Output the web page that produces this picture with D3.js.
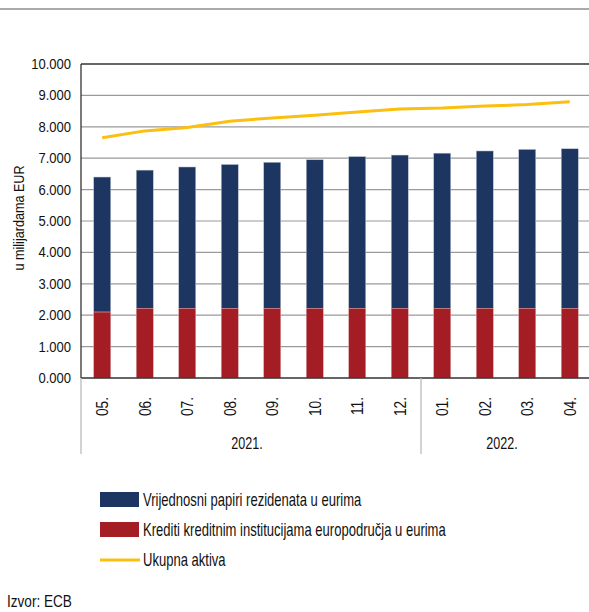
<!DOCTYPE html>
<html>
<head>
<meta charset="utf-8">
<script src="https://cdn.jsdelivr.net/npm/d3@7"></script>
<style>
  body { margin: 0; background: #fff; }
  svg text { font-family: "Liberation Sans", Arial, sans-serif; fill: #111; }
</style>
</head>
<body>
<div id="chart"></div>
<script>
// data
var months = ["05.", "06.", "07.", "08.", "09.", "10.", "11.", "12.", "01.", "02.", "03.", "04."];
var years = [{label: "2021.", from: 0, to: 7}, {label: "2022.", from: 8, to: 11}];
var krediti = [2.10, 2.22, 2.22, 2.22, 2.22, 2.22, 2.22, 2.22, 2.22, 2.22, 2.22, 2.22];
var ukupnoVp = [6.40, 6.62, 6.72, 6.80, 6.87, 6.95, 7.05, 7.10, 7.16, 7.23, 7.28, 7.30];
var aktiva = [7.65, 7.87, 7.98, 8.18, 8.28, 8.37, 8.47, 8.57, 8.60, 8.66, 8.71, 8.80];
var yTicks = [0, 1, 2, 3, 4, 5, 6, 7, 8, 9, 10];
var legendItems = [
  {label: "Vrijednosni papiri rezidenata u eurima", color: "#1c3661", type: "rect"},
  {label: "Krediti kreditnim institucijama europodručja u eurima", color: "#a51d24", type: "rect"},
  {label: "Ukupna aktiva", color: "#fbbf0f", type: "line"}
];

var W = 589, H = 612;
var margin = {top: 64, left: 81},
    plotH = 314;

var svg = d3.select("#chart").append("svg")
    .attr("width", W).attr("height", H);

// narrow text: the source font is a condensed one
function condensed(sel, x, y, sx, rot) {
  sel.attr("transform", "translate(" + x + "," + y + ")" + (rot ? " rotate(" + rot + ")" : "") + " scale(" + sx + ",1)");
}

// top separator
svg.append("rect").attr("x", 0).attr("y", 8).attr("width", W).attr("height", 2).attr("fill", "#aaa");

var x = d3.scaleBand().domain(months).range([margin.left, margin.left + 12 * 42.5]).paddingInner(0.6).paddingOuter(0.3);
var y = d3.scaleLinear().domain([0, 10]).range([margin.top + plotH, margin.top]);

// gridlines
svg.append("g").selectAll("line").data(yTicks.slice(1, -1)).enter().append("line")
    .attr("x1", margin.left).attr("x2", W)
    .attr("y1", function(d) { return y(d); }).attr("y2", function(d) { return y(d); })
    .attr("stroke", "#9a9a9a").attr("stroke-width", 1.2);

// y axis
var yAxis = svg.append("g")
    .attr("transform", "translate(" + margin.left + ",0)")
    .call(d3.axisLeft(y).tickValues(yTicks).tickSize(0)
      .tickFormat(function(d) { return d3.format(".3f")(d); }));
yAxis.select(".domain").remove();
yAxis.selectAll("text")
    .attr("font-family", null).attr("font-size", null)
    .style("font-size", "14px")
    .attr("x", 0)
    .attr("transform", "translate(-10,0) scale(0.93,1)");

// bars
var bars = svg.append("g");
bars.selectAll(".vp").data(months).enter().append("rect")
    .attr("x", function(d) { return x(d); })
    .attr("width", x.bandwidth())
    .attr("y", function(d, i) { return y(ukupnoVp[i]); })
    .attr("height", function(d, i) { return y(krediti[i]) - y(ukupnoVp[i]); })
    .attr("fill", "#1c3661").attr("stroke", "#b9c2d0").attr("stroke-width", 0.5);
bars.selectAll(".kr").data(months).enter().append("rect")
    .attr("x", function(d) { return x(d); })
    .attr("width", x.bandwidth())
    .attr("y", function(d, i) { return y(krediti[i]); })
    .attr("height", function(d, i) { return y(0) - y(krediti[i]); })
    .attr("fill", "#a51d24").attr("stroke", "#d8a5a8").attr("stroke-width", 0.5);

// line
var line = d3.line()
    .x(function(d, i) { return x(months[i]) + x.bandwidth() / 2; })
    .y(function(d) { return y(d); });
svg.append("path").datum(aktiva)
    .attr("d", line).attr("fill", "none")
    .attr("stroke", "#fbbf0f").attr("stroke-width", 3);

// frame: left, top, bottom
svg.append("line").attr("x1", margin.left).attr("x2", margin.left)
    .attr("y1", y(10)).attr("y2", y(0)).attr("stroke", "#333").attr("stroke-width", 1.3);
svg.append("line").attr("x1", margin.left).attr("x2", W)
    .attr("y1", y(10)).attr("y2", y(10)).attr("stroke", "#333").attr("stroke-width", 1.3);
svg.append("line").attr("x1", margin.left).attr("x2", W)
    .attr("y1", y(0)).attr("y2", y(0)).attr("stroke", "#333").attr("stroke-width", 1.3);

// x labels
svg.append("g").selectAll("text").data(months).enter().append("text")
    .attr("text-anchor", "end")
    .style("font-size", "16px")
    .text(function(d) { return d; })
    .each(function(d) {
      condensed(d3.select(this), x(d) + x.bandwidth() / 2 + 6, y(0) + 19, 0.86, -90);
    });

// year groups
var step = x.step();
var xLeft = function(i) { return margin.left + i * step; };
var sepIdx = [0, 8];
svg.append("g").selectAll("line").data(sepIdx).enter().append("line")
    .attr("x1", function(d) { return xLeft(d); }).attr("x2", function(d) { return xLeft(d); })
    .attr("y1", y(0)).attr("y2", y(0) + 76)
    .attr("stroke", "#bbb").attr("stroke-width", 1.3);
svg.append("g").selectAll("text").data(years).enter().append("text")
    .attr("text-anchor", "middle")
    .style("font-size", "17px")
    .text(function(d) { return d.label; })
    .each(function(d) {
      condensed(d3.select(this), (xLeft(d.from) + xLeft(d.to + 1)) / 2 - 4, y(0) + 71, 0.74);
    });

// y axis title
svg.append("text")
    .attr("text-anchor", "middle")
    .style("font-size", "15px")
    .text("u milijardama EUR")
    .call(condensed, 24, 218, 0.84, -90);

// legend
var lg = svg.append("g").selectAll("g").data(legendItems).enter().append("g")
    .attr("transform", function(d, i) { return "translate(100," + (492 + i * 30) + ")"; });
lg.filter(function(d) { return d.type === "rect"; }).append("rect")
    .attr("width", 39).attr("height", 15).attr("fill", function(d) { return d.color; });
lg.filter(function(d) { return d.type === "line"; }).append("line")
    .attr("x1", 0).attr("x2", 40).attr("y1", 8).attr("y2", 8)
    .attr("stroke", function(d) { return d.color; }).attr("stroke-width", 3);
lg.append("text")
    .style("font-size", "17.5px")
    .text(function(d) { return d.label; })
    .call(condensed, 43, 13.5, 0.745);

// source
svg.append("text")
    .style("font-size", "17px")
    .text("Izvor: ECB")
    .call(condensed, 7, 607, 0.8);
</script>
</body>
</html>
